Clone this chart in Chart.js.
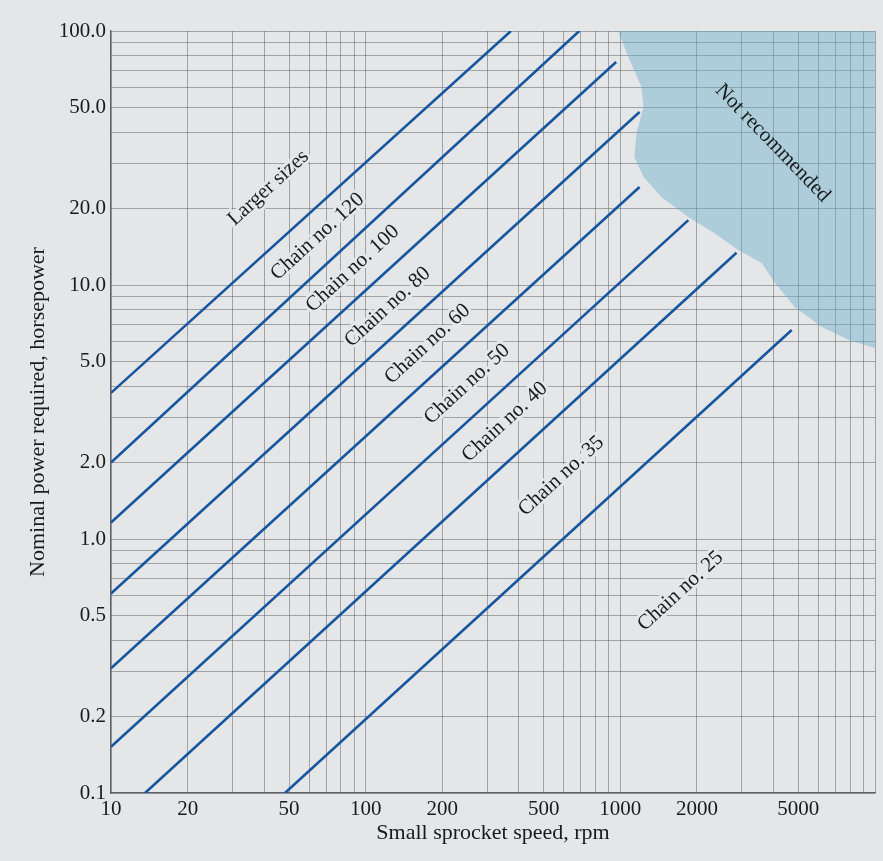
<!DOCTYPE html>
<html>
<head>
<meta charset="utf-8">
<script src="https://cdn.jsdelivr.net/npm/chart.js@4.4.0/dist/chart.umd.min.js"></script>
<style>
  body { margin: 0; background: #e4e6e8; }
  .chart_wrap { width: 883px; height: 861px; position: relative; }
</style>
</head>
<body>
<div class="chart_wrap"><canvas id="chainChart"></canvas></div>
<script>
// axis ranges and tick labels
var speedMin = 10, speedMax = 10000;
var powerMin = 0.1, powerMax = 100;
var xLabelValues = [10, 20, 50, 100, 200, 500, 1000, 2000, 5000];
var yLabelValues = [0.1, 0.2, 0.5, 1, 2, 5, 10, 20, 50, 100];

// boundary lines between chain sizes (start / end points)
var lineStartRpm = [10, 10, 10, 10, 10, 10, 13.6, 48.2];
var lineStartHp = [3.76, 2.0, 1.16, 0.61, 0.31, 0.152, 0.1, 0.1];
var lineEndRpm = [372, 690, 963, 1190, 1190, 1850, 2860, 4710];
var lineEndHp = [100, 100, 75.5, 48, 24.3, 18, 13.4, 6.65];

// "Not recommended" region boundary
var regionRpm = [982, 1075, 1210, 1233, 1157, 1135, 1233, 1449, 1854, 2344, 2917, 3590, 4040, 4840, 6180, 7910, 10000, 10000];
var regionHp = [100, 79, 60.3, 50.2, 39.6, 31.9, 26.6, 22.2, 18.5, 16.0, 13.7, 12.2, 10.2, 8.19, 6.84, 6.07, 5.65, 100];

var zoneNames = ['Larger sizes', 'Chain no. 120', 'Chain no. 100', 'Chain no. 80', 'Chain no. 60',
  'Chain no. 50', 'Chain no. 40', 'Chain no. 35', 'Chain no. 25', 'Not recommended'];

// where the labels sit (data coords) and their angle
var labelSpots = [
  [41.5, 24.1, -42.5], [64.7, 15.5, -42.5], [88.9, 11.6, -42.5], [122, 8.19, -42.5], [175, 5.86, -42.5],
  [250, 4.07, -42.5], [352, 2.89, -42.5], [586, 1.77, -42.5], [1722, 0.624, -42.5], [3960, 36.2, 46]
];

var paper = '#e4e6e8';
var serif = "'Liberation Serif', 'DejaVu Serif', serif";

function logGrid(min, max) {
  var out = [];
  for (var d = min; d < max * 0.999; d *= 10) {
    for (var m = 1; m <= 9; m++) out.push(parseFloat((d * m).toPrecision(6)));
  }
  out.push(max);
  return out;
}

function isLabel(list, v) {
  for (var i = 0; i < list.length; i++) {
    if (Math.abs(list[i] - v) / list[i] < 1e-6) return true;
  }
  return false;
}

var datasets = [];
for (var i = 0; i < lineStartRpm.length; i++) {
  datasets.push({
    data: [{x: lineStartRpm[i], y: lineStartHp[i]}, {x: lineEndRpm[i], y: lineEndHp[i]}],
    showLine: true,
    borderColor: '#17569f',
    borderWidth: 2.6,
    pointRadius: 0,
    fill: false
  });
}
datasets.push({
  data: regionRpm.map(function (r, k) { return {x: r, y: regionHp[k]}; }),
  showLine: true,
  borderWidth: 0,
  borderColor: 'rgba(0,0,0,0)',
  backgroundColor: 'rgba(100,172,200,0.42)',
  pointRadius: 0,
  fill: 'shape'
});

var textPlugin = {
  id: 'zoneText',
  afterDatasetsDraw: function (chart) {
    var ctx = chart.ctx;
    ctx.save();
    ctx.font = '21px ' + serif;
    ctx.textAlign = 'center';
    ctx.textBaseline = 'middle';
    zoneNames.forEach(function (name, k) {
      var s = labelSpots[k];
      var px = chart.scales.x.getPixelForValue(s[0]);
      var py = chart.scales.y.getPixelForValue(s[1]);
      ctx.save();
      ctx.translate(px, py);
      ctx.rotate(s[2] * Math.PI / 180);
      if (k < 9) {
        ctx.strokeStyle = paper;
        ctx.lineWidth = 6;
        ctx.strokeText(name, 0, 0);
      }
      ctx.fillStyle = '#1a1a1a';
      ctx.fillText(name, 0, 0);
      ctx.restore();
    });
    ctx.restore();
  }
};

Chart.defaults.font.family = serif;
Chart.defaults.color = '#1a1a1a';

var chainChart = new Chart(document.getElementById('chainChart'), {
  type: 'scatter',
  data: { datasets: datasets },
  plugins: [textPlugin],
  options: {
    responsive: true,
    maintainAspectRatio: false,
    animation: false,
    events: [],
    layout: { padding: { left: 0, top: 31, right: 8, bottom: 0 } },
    plugins: {
      legend: { display: false },
      tooltip: { enabled: false }
    },
    scales: {
      x: {
        type: 'logarithmic',
        min: speedMin,
        max: speedMax,
        afterBuildTicks: function (scale) {
          scale.ticks = logGrid(speedMin, speedMax).map(function (v) { return {value: v}; });
        },
        afterFit: function (scale) { scale.height = 68; },
        grid: { color: 'rgba(90,96,104,0.5)', lineWidth: 1, drawTicks: false },
        border: { color: 'rgba(70,74,80,0.85)', width: 1.2 },
        ticks: {
          autoSkip: false,
          maxRotation: 0,
          padding: 4,
          font: { size: 21 },
          callback: function (v) { return isLabel(xLabelValues, v) ? String(v) : ''; }
        },
        title: {
          display: true,
          text: 'Small sprocket speed, rpm',
          font: { size: 22 },
          padding: { top: 0, bottom: 15 }
        }
      },
      y: {
        type: 'logarithmic',
        min: powerMin,
        max: powerMax,
        afterBuildTicks: function (scale) {
          scale.ticks = logGrid(powerMin, powerMax).map(function (v) { return {value: v}; });
        },
        afterFit: function (scale) { scale.width = 111; },
        grid: { color: 'rgba(90,96,104,0.5)', lineWidth: 1, drawTicks: false },
        border: { color: 'rgba(70,74,80,0.85)', width: 1.2 },
        ticks: {
          autoSkip: false,
          padding: 5,
          font: { size: 21 },
          callback: function (v) { return isLabel(yLabelValues, v) ? v.toFixed(1) : ''; }
        },
        title: {
          display: true,
          text: 'Nominal power required, horsepower',
          font: { size: 22 },
          padding: { top: 25, bottom: 0 }
        }
      }
    }
  }
});
</script>
</body>
</html>
